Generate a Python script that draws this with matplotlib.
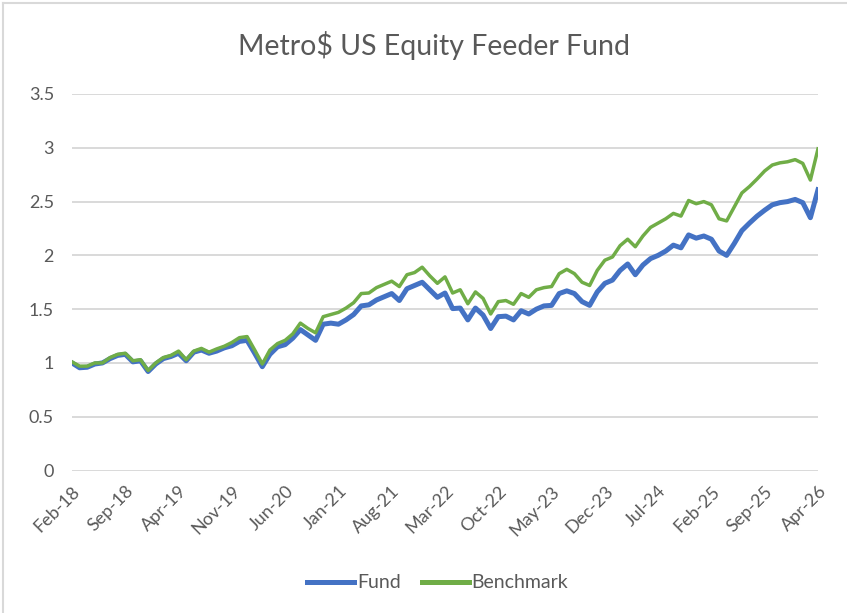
import matplotlib
matplotlib.use("Agg")
import matplotlib.pyplot as plt
from matplotlib.lines import Line2D
import numpy as np
import pandas as pd

# monthly index values, Feb-18 .. Apr-26
months = pd.date_range("2018-02-01", periods=99, freq="MS").strftime("%b-%y").tolist()

fund = [
    1.00, 0.955, 0.96, 0.99, 1.00, 1.04, 1.07, 1.08, 1.01, 1.02,
    0.92, 0.99, 1.04, 1.06, 1.09, 1.02, 1.10, 1.12, 1.09, 1.11,
    1.14, 1.16, 1.20, 1.21, 1.09, 0.965, 1.08, 1.15, 1.17, 1.23,
    1.31, 1.26, 1.21, 1.36, 1.37, 1.36, 1.40, 1.45, 1.53, 1.54,
    1.585, 1.615, 1.645, 1.58, 1.69, 1.72, 1.75, 1.68, 1.61, 1.65,
    1.505, 1.51, 1.40, 1.51, 1.445, 1.32, 1.43, 1.435, 1.40, 1.485,
    1.455, 1.50, 1.53, 1.535, 1.645, 1.67, 1.645, 1.57, 1.535, 1.66,
    1.74, 1.77, 1.86, 1.92, 1.82, 1.91, 1.97, 2.00, 2.04, 2.095,
    2.07, 2.19, 2.16, 2.18, 2.15, 2.04, 2.00, 2.11, 2.23, 2.30,
    2.365, 2.42, 2.47, 2.49, 2.50, 2.52, 2.49, 2.35, 2.61,
]

benchmark = [
    1.01, 0.97, 0.97, 1.00, 1.00, 1.05, 1.08, 1.09, 1.02, 1.03,
    0.93, 1.00, 1.05, 1.07, 1.11, 1.03, 1.11, 1.135, 1.10, 1.13,
    1.155, 1.19, 1.235, 1.245, 1.12, 0.99, 1.12, 1.18, 1.21, 1.27,
    1.37, 1.32, 1.28, 1.43, 1.45, 1.47, 1.51, 1.56, 1.645, 1.65,
    1.70, 1.73, 1.76, 1.71, 1.82, 1.84, 1.89, 1.81, 1.74, 1.80,
    1.65, 1.68, 1.55, 1.66, 1.60, 1.455, 1.57, 1.58, 1.545, 1.645,
    1.61, 1.68, 1.70, 1.71, 1.83, 1.87, 1.83, 1.75, 1.72, 1.86,
    1.955, 1.985, 2.09, 2.15, 2.08, 2.18, 2.26, 2.30, 2.34, 2.39,
    2.365, 2.51, 2.48, 2.50, 2.47, 2.34, 2.32, 2.45, 2.58, 2.64,
    2.71, 2.785, 2.84, 2.86, 2.87, 2.89, 2.855, 2.70, 2.99,
]

tick_labels = ["Feb-18", "Sep-18", "Apr-19", "Nov-19", "Jun-20", "Jan-21", "Aug-21",
               "Mar-22", "Oct-22", "May-23", "Dec-23", "Jul-24", "Feb-25", "Sep-25", "Apr-26"]
y_ticks = [0, 0.5, 1, 1.5, 2, 2.5, 3, 3.5]
y_labels = ["0", "0.5", "1", "1.5", "2", "2.5", "3", "3.5"]

txt = "#595959"
grid = "#D9D9D9"
plt.rcParams["font.family"] = ["Lato", "DejaVu Sans"]

fig = plt.figure(figsize=(8.47, 6.13), dpi=100)
ax = fig.add_axes([72 / 847, 1 - 470.5 / 613, (818 - 72) / 847, (470.5 - 94) / 613])

x = np.arange(len(months))
ax.plot(x, fund, color="#4472C4", lw=3.6, solid_joinstyle="round", label="Fund")
ax.plot(x, benchmark, color="#70AD47", lw=2.5, solid_joinstyle="round", label="Benchmark")

ax.set_xlim(0, len(months) - 1)
ax.set_ylim(0, 3.5)
ax.set_yticks(y_ticks)
ax.set_yticklabels(y_labels)
tick_pos = [months.index(t) for t in tick_labels]
ax.set_xticks(tick_pos)
ax.set_xticklabels(tick_labels, rotation=45, ha="right", rotation_mode="anchor")

ax.grid(axis="y", color=grid, lw=1.4)
ax.set_axisbelow(True)
for s in ax.spines.values():
    s.set_visible(False)
ax.tick_params(axis="both", length=0, colors=txt, labelsize=13)
ax.tick_params(axis="y", pad=13)
ax.tick_params(axis="x", pad=9)

fig.text(0.512, 1 - 45 / 613, "Metro$ US Equity Feeder Fund", ha="center", va="center",
         fontsize=20.5, color=txt)

leg = fig.legend(loc="center", bbox_to_anchor=(0.517, 1 - 583 / 613), ncol=2, frameon=False,
                 fontsize=14, labelcolor=txt, handlelength=2.4, handletextpad=0.15,
                 columnspacing=1.1)
for h in leg.get_lines():
    h.set_linewidth(3.6)

# chart area border (left and top edges visible)
fig.add_artist(Line2D([3 / 847, 3 / 847], [0, 1 - 3 / 613], color=grid, lw=1.5))
fig.add_artist(Line2D([3 / 847, 1], [1 - 3 / 613, 1 - 3 / 613], color=grid, lw=1.5))

fig.savefig("out.png", dpi=100)
